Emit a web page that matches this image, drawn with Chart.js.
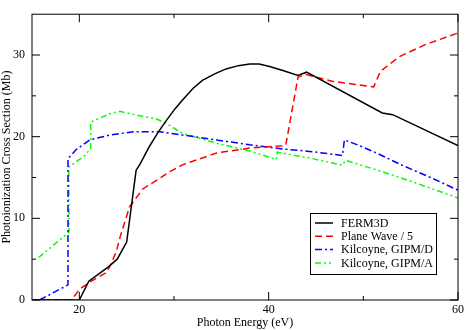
<!DOCTYPE html>
<html>
<head>
<meta charset="utf-8">
<script src="https://cdn.jsdelivr.net/npm/chart.js@4/dist/chart.umd.min.js"></script>
<style>
    html, body { margin: 0; padding: 0; background: #fff; }
    #wrap { width: 467px; height: 330px; }
</style>
</head>
<body>
<div id="wrap"><canvas id="xsChart" width="467" height="330"></canvas></div>
<script>
// =========================
// DATA
// =========================

const ferm3dX = [15, 20, 21, 23, 24, 25, 26, 26.4, 27.4, 28.3, 29.2, 30.1, 30.9, 32, 33, 34.3, 35.5, 36.8, 38, 39, 40.1, 41.5, 43.1, 44, 52, 53.1, 60];
const ferm3dY = [0, 0, 2.3, 4.0, 5.0, 7.1, 15.9, 16.6, 18.8, 20.5, 22.0, 23.4, 24.5, 25.9, 26.9, 27.7, 28.3, 28.7, 28.9, 28.9, 28.6, 28.1, 27.5, 27.9, 22.9, 22.7, 18.9];

const planeX = [15, 19.2, 20, 21.1, 22.9, 23.3, 23.9, 24.3, 25.3, 26.7, 28.5, 29.5, 31, 34.5, 38, 41.8, 43.1, 44, 46.7, 51.1, 51.8, 53.8, 56.6, 60];
const planeY = [0, 0, 1.3, 2.2, 3.4, 4.3, 5.9, 7.7, 11.4, 13.6, 14.9, 15.7, 16.6, 18.0, 18.6, 18.9, 27.3, 27.6, 26.8, 26.1, 28.0, 29.8, 31.3, 32.7];

const gipmdX = [15.8, 18.8, 18.8, 19.7, 21.1, 23.2, 25.7, 28.5, 30.9, 34.5, 38, 41.5, 44.3, 47.8, 48, 49.6, 51.3, 54.1, 57.3, 60];
const gipmdY = [0, 1.85, 17.3, 18.45, 19.6, 20.2, 20.6, 20.6, 20.2, 19.6, 19.0, 18.5, 18.2, 17.7, 19.6, 18.9, 18.05, 16.5, 14.9, 13.45];

const gipmaX = [15.7, 18.9, 18.9, 20.6, 21.2, 21.2, 23.2, 24.3, 26.4, 28.1, 29.2, 30.9, 34.5, 38, 40.8, 40.9, 44.3, 47.8, 48.1, 51.5, 55.5, 60];
const gipmaY = [5.2, 8.3, 16.3, 17.7, 18.6, 21.8, 22.8, 23.1, 22.55, 22.2, 21.6, 20.4, 19.2, 18.25, 17.2, 18.1, 17.4, 16.5, 17.1, 15.9, 14.35, 12.5];

const seriesLabels = ["FERM3D", "Plane Wave / 5", "Kilcoyne, GIPM/D", "Kilcoyne, GIPM/A"];

const xTicks = [20, 40, 60];
const xMinorTicks = [30, 50];
const yTicks = [0, 10, 20, 30];
const yMinorTicks = [5, 15, 25];

const FONT = "'Liberation Serif', 'Times New Roman', serif";

function toPoints(xs, ys) {
    return xs.map((x, i) => ({ x: x, y: ys[i] }));
}

// =========================
// FRAME, TICKS, LEGEND
// =========================

const framePlugin = {
    id: "frame",
    afterDraw(chart) {
        const ctx = chart.ctx;
        const a = chart.chartArea;
        const xs = chart.scales.x;
        const ys = chart.scales.y;
        ctx.save();
        ctx.strokeStyle = "#000";
        ctx.lineWidth = 1;
        ctx.setLineDash([]);
        ctx.strokeRect(a.left, a.top, a.right - a.left, a.bottom - a.top);

        ctx.beginPath();
        const tickX = (v, len) => {
            const px = xs.getPixelForValue(v);
            ctx.moveTo(px, a.bottom); ctx.lineTo(px, a.bottom - len);
            ctx.moveTo(px, a.top); ctx.lineTo(px, a.top + len);
        };
        const tickY = (v, len) => {
            const py = ys.getPixelForValue(v);
            ctx.moveTo(a.left, py); ctx.lineTo(a.left + len, py);
            ctx.moveTo(a.right, py); ctx.lineTo(a.right - len, py);
        };
        xTicks.forEach(v => tickX(v, 8));
        xMinorTicks.forEach(v => tickX(v, 4));
        yTicks.forEach(v => tickY(v, 8));
        yMinorTicks.forEach(v => tickY(v, 4));
        ctx.stroke();

        // legend box
        const bx = 310, by = 213, bw = 126, bh = 61;
        ctx.fillStyle = "#fff";
        ctx.fillRect(bx, by, bw, bh);
        ctx.strokeRect(bx + 0.5, by + 0.5, bw, bh);
        ctx.font = "12px " + FONT;
        ctx.textBaseline = "middle";
        ctx.textAlign = "left";
        chart.data.datasets.forEach((ds, i) => {
            const ry = 223 + i * 13.3;
            ctx.strokeStyle = ds.borderColor;
            ctx.lineWidth = ds.borderWidth;
            ctx.setLineDash(ds.borderDash || []);
            ctx.beginPath();
            ctx.moveTo(315, ry);
            ctx.lineTo(333, ry);
            ctx.stroke();
            ctx.fillStyle = "#000";
            ctx.fillText(ds.label, 341, ry + 0.5);
        });
        ctx.restore();
    }
};

// =========================
// CHART
// =========================

const canvas = document.getElementById("xsChart");

const makeSet = (label, xs, ys, color, dash) => ({
    label: label,
    data: toPoints(xs, ys),
    borderColor: color,
    backgroundColor: color,
    borderWidth: 1.5,
    borderDash: dash,
    pointRadius: 0,
    tension: 0,
    fill: false
});

new Chart(canvas, {
    type: "line",
    data: {
        datasets: [
            makeSet(seriesLabels[0], ferm3dX, ferm3dY, "#000000", []),
            makeSet(seriesLabels[1], planeX, planeY, "#ff0000", [7, 4]),
            makeSet(seriesLabels[2], gipmdX, gipmdY, "#0000ff", [7, 3, 2, 3]),
            makeSet(seriesLabels[3], gipmaX, gipmaY, "#00ff00", [6, 3, 2, 3, 2, 3])
        ]
    },
    options: {
        responsive: false,
        animation: false,
        maintainAspectRatio: false,
        layout: { padding: { left: 0, right: 8, top: 1, bottom: 0 } },
        plugins: {
            legend: { display: false },
            tooltip: { enabled: false }
        },
        scales: {
            x: {
                type: "linear",
                min: 15,
                max: 60,
                grid: { display: false, drawTicks: false },
                border: { display: false },
                afterBuildTicks: s => { s.ticks = xTicks.map(v => ({ value: v })); },
                afterFit: s => { s.height = 30; },
                ticks: {
                    padding: 3,
                    maxRotation: 0,
                    color: "#000",
                    font: { family: FONT, size: 12 }
                },
                title: {
                    display: true,
                    text: "Photon Energy (eV)",
                    color: "#000",
                    padding: 0,
                    font: { family: FONT, size: 12 }
                }
            },
            y: {
                type: "linear",
                min: 0,
                max: 35,
                grid: { display: false, drawTicks: false },
                border: { display: false },
                afterBuildTicks: s => { s.ticks = yTicks.map(v => ({ value: v })); },
                afterFit: s => { s.width = 32; },
                ticks: {
                    padding: 7,
                    color: "#000",
                    font: { family: FONT, size: 12 }
                },
                title: {
                    display: true,
                    text: "Photoionization Cross Section (Mb)",
                    color: "#000",
                    padding: 0,
                    font: { family: FONT, size: 12 }
                }
            }
        }
    },
    plugins: [framePlugin]
});
</script>
</body>
</html>
